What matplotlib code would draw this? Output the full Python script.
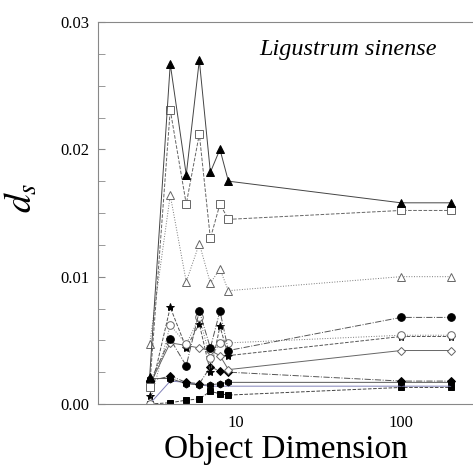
import numpy as np
import matplotlib
matplotlib.use("Agg")
import matplotlib.pyplot as plt

plt.rcParams['font.family'] = ['Liberation Serif', 'DejaVu Serif']
plt.rcParams['mathtext.fontset'] = 'stix'

# object dimension (x) and d_s values for each curve
dims = [3, 4, 5, 6, 7, 8, 9, 100, 200]

tri_fill = [0.0021, 0.0267, 0.0180, 0.0270, 0.0182, 0.0200, 0.0175, 0.0158, 0.0158]
sq_open = [0.0013, 0.0231, 0.0157, 0.0212, 0.0130, 0.0157, 0.0145, 0.0152, 0.0152]
tri_open = [0.0047, 0.0164, 0.0096, 0.0126, 0.0095, 0.0106, 0.0089, 0.0100, 0.0100]
circ_fill = [0.0017, 0.0051, 0.0030, 0.0073, 0.0044, 0.0073, 0.0042, 0.0068, 0.0068]
circ_open = [0.0000, 0.0062, 0.0047, 0.0068, 0.0036, 0.0048, 0.0048, 0.0054, 0.0054]
star_fill = [0.0006, 0.0076, 0.0044, 0.0063, 0.0025, 0.0061, 0.0038, 0.0053, 0.0053]
diam_open = [0.0015, 0.0048, 0.0046, 0.0044, 0.0042, 0.0038, 0.0027, 0.0042, 0.0042]
diam_fill = [0.0018, 0.0022, 0.0017, 0.0016, 0.0029, 0.0026, 0.0025, 0.0018, 0.0018]
hex_fill = [0.0020, 0.0020, 0.0016, 0.0015, 0.0015, 0.0016, 0.0017, 0.0017, 0.0017]
blue_line = [0.0000, 0.0018, 0.0017, 0.0015, 0.0014, 0.0014, 0.0014, 0.0014, 0.0014]
sq_fill = [0.0000, 0.0001, 0.0003, 0.0004, 0.0010, 0.0008, 0.0007, 0.0013, 0.0013]

fig = plt.figure(figsize=(4.73, 4.71), dpi=100)
ax = fig.add_axes([98/473, 1 - 404/471, 1 - 98/473, (404 - 22)/471])

# (data, marker, filled, linestyle, line colour, size)
curves = [
    (sq_fill, 's', True, '--', '#444444', 5),
    (blue_line, 'o', False, '-', '#8080b8', 0),
    (hex_fill, 'h', True, '-', '#555555', 5),
    (diam_fill, 'D', True, '-.', '#555555', 4),
    (diam_open, 'D', False, '-', '#666666', 4),
    (star_fill, '*', True, '--', '#555555', 6),
    (circ_open, 'o', False, ':', '#777777', 5.5),
    (circ_fill, 'o', True, '-.', '#555555', 5.5),
    (tri_open, '^', False, ':', '#777777', 5.5),
    (sq_open, 's', False, '--', '#666666', 5.5),
    (tri_fill, '^', True, '-', '#444444', 5.5),
]

for vals, mk, filled, ls, col, ms in curves:
    ax.plot(dims, vals, linestyle=ls, color=col, linewidth=0.7,
            marker=mk if ms else None, markersize=ms,
            markerfacecolor='black' if filled else 'white',
            markeredgecolor='black' if filled else '#666666',
            markeredgewidth=0.7)

ax.set_xscale('log')
ax.set_xlim(1.46, 273)
ax.set_ylim(0, 0.03)
ax.set_xticks([10, 100])
ax.set_xticklabels(['10', '100'])
ax.xaxis.set_minor_locator(matplotlib.ticker.NullLocator())
ax.set_yticks([0, 0.01, 0.02, 0.03])
ax.set_yticklabels(['0.00', '0.01', '0.02', '0.03'])
ax.set_yticks(np.arange(0, 0.0301, 0.0025), minor=True)
ax.tick_params(axis='x', length=0, labelsize=12, pad=8, colors='black')
ax.tick_params(axis='y', which='both', direction='in', length=5,
               color='#888888', labelsize=12, pad=6)

for s in ['left', 'bottom', 'top']:
    ax.spines[s].set_color('#888888')
ax.spines['right'].set_visible(False)

ax.set_xlabel('Object Dimension', fontsize=24, labelpad=2)
ax.set_ylabel(r'$d_s$', fontsize=27)
ax.yaxis.set_label_coords(-0.155, 0.54)
ax.text(0.904, 0.927, 'Ligustrum sinense', transform=ax.transAxes,
        ha='right', va='center', fontsize=17.5, style='italic')

fig.savefig('out.png', dpi=100)
